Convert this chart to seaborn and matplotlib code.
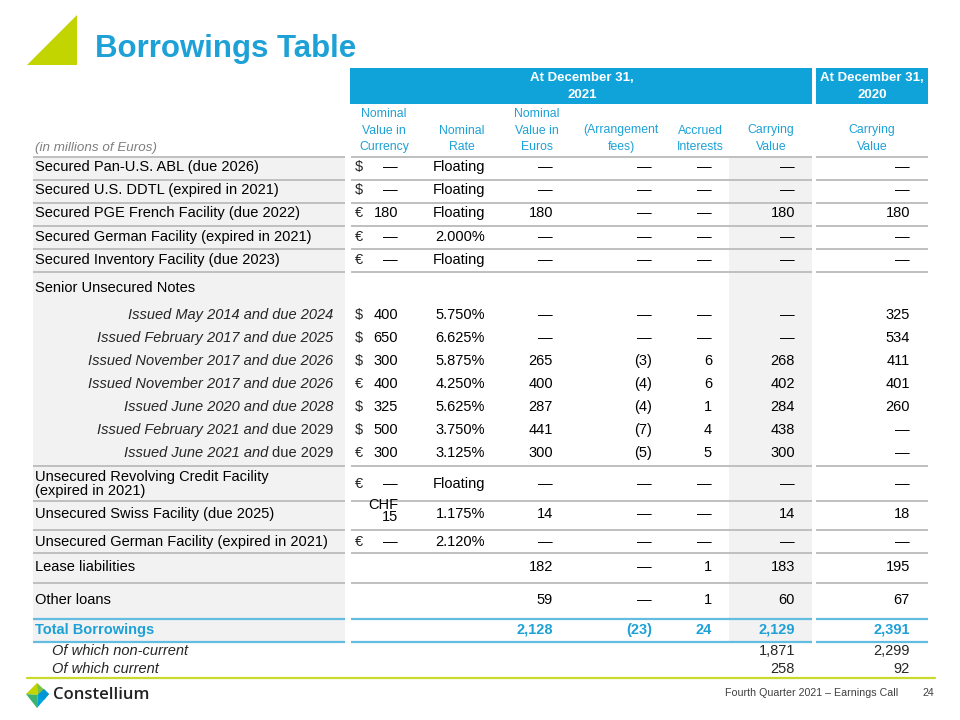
import matplotlib
matplotlib.use("Agg")
import matplotlib.pyplot as plt
from matplotlib.patches import Polygon, Rectangle
import seaborn as sns

# table content
row_labels = [
    "Secured Pan-U.S. ABL (due 2026)",
    "Secured U.S. DDTL (expired in 2021)",
    "Secured PGE French Facility (due 2022)",
    "Secured German Facility (expired in 2021)",
    "Secured Inventory Facility (due 2023)",
    "Senior Unsecured Notes",
    "Issued May 2014 and due 2024",
    "Issued February 2017 and due 2025",
    "Issued November 2017 and due 2026",
    "Issued November 2017 and due 2026",
    "Issued June 2020 and due 2028",
    "Issued February 2021 and",
    "Issued June 2021 and",
    "Unsecured Revolving Credit Facility\n(expired in 2021)",
    "Unsecured Swiss Facility (due 2025)",
    "Unsecured German Facility (expired in 2021)",
    "Lease liabilities",
    "Other loans",
    "Total Borrowings",
]
label_suffix = ["", "", "", "", "", "", "", "", "", "", "", "due 2029", "due 2029", "", "", "", "", "", ""]
italic_rows = [6, 7, 8, 9, 10, 11, 12]

currency = ["$", "$", "€", "€", "€", "", "$", "$", "$", "€", "$", "$", "€", "€", "", "€", "", "", ""]
nominal_ccy = ["—", "—", "180", "—", "—", "", "400", "650", "300", "400", "325", "500", "300", "—",
               "CHF\n15", "—", "", "", ""]
nominal_rate = ["Floating", "Floating", "Floating", "2.000%", "Floating", "", "5.750%", "6.625%",
                "5.875%", "4.250%", "5.625%", "3.750%", "3.125%", "Floating", "1.175%", "2.120%", "", "", ""]
nominal_eur = ["—", "—", "180", "—", "—", "", "—", "—", "265", "400", "287", "441", "300", "—",
               "14", "—", "182", "59", "2,128"]
arrangement_fees = ["—", "—", "—", "—", "—", "", "—", "—", "(3)", "(4)", "(4)", "(7)", "(5)", "—",
                    "—", "—", "—", "—", "(23)"]
accrued = ["—", "—", "—", "—", "—", "", "—", "—", "6", "6", "1", "4", "5", "—",
           "—", "—", "1", "1", "24"]
carrying_2021 = ["—", "—", "180", "—", "—", "", "—", "—", "268", "402", "284", "438", "300", "—",
                 "14", "—", "183", "60", "2,129"]
carrying_2020 = ["—", "—", "180", "—", "—", "", "325", "534", "411", "401", "260", "—", "—", "—",
                 "18", "—", "195", "67", "2,391"]

split_labels = ["Of which non-current", "Of which current"]
split_2021 = ["1,871", "258"]
split_2020 = ["2,299", "92"]

col_headers = ["Nominal\nValue in\nCurrency", "Nominal\nRate", "Nominal\nValue in\nEuros",
               "(Arrangement\nfees)", "Accrued\nInterests", "Carrying\nValue", "Carrying\nValue"]
period_headers = ["At December 31,\n2021", "At December 31,\n2020"]

# layout
row_y = [167, 190, 213, 237, 260, 288, 315, 338, 361, 384, 407, 430, 453, 484, 514, 542, 567, 600, 630]
split_y = [651, 669]
grey_lines = [157, 180, 203, 226, 249, 272, 466, 501, 530, 553, 583]
blue_lines = [619, 642]
col_right = [398, 485, 553, 652, 712, 795, 910]
header_x = [384, 462, 537, 621, 700, 771, 872]

BLUE = "#0FA3DA"
TXT_BLUE = "#1DA1D6"
LINE_BLUE = "#62BDE0"
LIME = "#C3D500"
GREY_BG = "#F2F2F2"
GREY_LINE = "#BFBFBF"

sns.set_theme(style="white")
plt.rcParams["font.family"] = ["Liberation Sans", "DejaVu Sans"]
FS = 10.5

fig = plt.figure(figsize=(9.6, 7.2), dpi=100)
ax = fig.add_axes([0, 0, 1, 1])
ax.set_xlim(0, 960)
ax.set_ylim(720, 0)
ax.axis("off")

# title + triangle
ax.add_patch(Polygon([(27, 65), (77, 15), (77, 65)], closed=True, color=LIME, lw=0))
ax.text(95, 49, "Borrowings Table", fontsize=22.5, fontweight="bold", color=TXT_BLUE, va="center")

# header bands
ax.add_patch(Rectangle((350, 68), 462, 36, color=BLUE, lw=0))
ax.add_patch(Rectangle((816, 68), 112, 36, color=BLUE, lw=0))
for x, txt in zip([582, 872], period_headers):
    ax.text(x, 86.5, txt, fontsize=9.5, fontweight="bold", color="white", ha="center", va="center",
            linespacing=1.6)
for x, txt in zip(header_x, col_headers):
    ax.text(x, 153, txt, fontsize=8.8, color=TXT_BLUE, ha="center", va="bottom", linespacing=1.5)
ax.text(35, 148, "(in millions of Euros)", fontsize=9.6, style="italic", color="#7F7F7F", va="center")

# backgrounds
ax.add_patch(Rectangle((33, 157), 312, 485, color=GREY_BG, lw=0))
ax.add_patch(Rectangle((729, 157), 83, 485, color=GREY_BG, lw=0))

# separators
for y in grey_lines:
    for x0, x1 in [(33, 345), (351, 812), (816, 928)]:
        ax.plot([x0, x1], [y, y], color=GREY_LINE, lw=1.4, solid_capstyle="butt")
for y in blue_lines:
    for x0, x1 in [(33, 345), (351, 812), (816, 928)]:
        ax.plot([x0, x1], [y, y], color=LINE_BLUE, lw=1.6, solid_capstyle="butt")

# rows
for i, y in enumerate(row_y):
    lbl = row_labels[i]
    total = lbl == "Total Borrowings"
    color = TXT_BLUE if total else "black"
    weight = "bold" if total else "normal"
    if i in italic_rows:
        if label_suffix[i]:
            ax.text(333, y, label_suffix[i], fontsize=FS, ha="right", va="center")
            ax.text(268, y, lbl, fontsize=FS, style="italic", ha="right", va="center")
        else:
            ax.text(333, y, lbl, fontsize=FS, style="italic", ha="right", va="center")
    else:
        ax.text(35, y, lbl, fontsize=FS, color=color, fontweight=weight, va="center", linespacing=1.0)
    if currency[i]:
        ax.text(355, y, currency[i], fontsize=FS, va="center")
    vals = [nominal_ccy[i], nominal_rate[i], nominal_eur[i], arrangement_fees[i],
            accrued[i], carrying_2021[i], carrying_2020[i]]
    for x, v in zip(col_right, vals):
        if v:
            vy = y - 3 if "\n" in v else y
            ax.text(x, vy, v, fontsize=FS, color=color, fontweight=weight, ha="right", va="center",
                    linespacing=0.85)

for y, lbl, v21, v20 in zip(split_y, split_labels, split_2021, split_2020):
    ax.text(52, y, lbl, fontsize=FS, style="italic", va="center")
    ax.text(col_right[5], y, v21, fontsize=FS, ha="right", va="center")
    ax.text(col_right[6], y, v20, fontsize=FS, ha="right", va="center")

# footer
ax.plot([27, 935], [678, 678], color="#C9DA2A", lw=1.6)
ax.text(898, 693, "Fourth Quarter 2021 – Earnings Call", fontsize=7.7, color="#404040",
        ha="right", va="center")
ax.text(934, 693, "24", fontsize=7.7, color="#404040", ha="right", va="center")

cx, cy = 37.5, 695
top, right, bottom, left = (37, 683), (49, 694), (37, 708), (26, 694)
ax.add_patch(Polygon([left, top, (cx, cy)], color=LIME, lw=0))
ax.add_patch(Polygon([top, right, (cx, cy)], color="#7DC242", lw=0))
ax.add_patch(Polygon([right, bottom, (cx, cy)], color="#00A0DC", lw=0))
ax.add_patch(Polygon([bottom, left, (cx, cy)], color="#3CB371", lw=0))
ax.add_patch(Polygon([(cx, cy), (44, 689), (49, 694), (44, 700)], color="#0096D6", lw=0))
ax.text(53, 695, "Constellium", fontsize=12, fontfamily="Open Sans", fontweight="semibold",
        color="#222222", va="center")

fig.savefig("out.png", dpi=100)
